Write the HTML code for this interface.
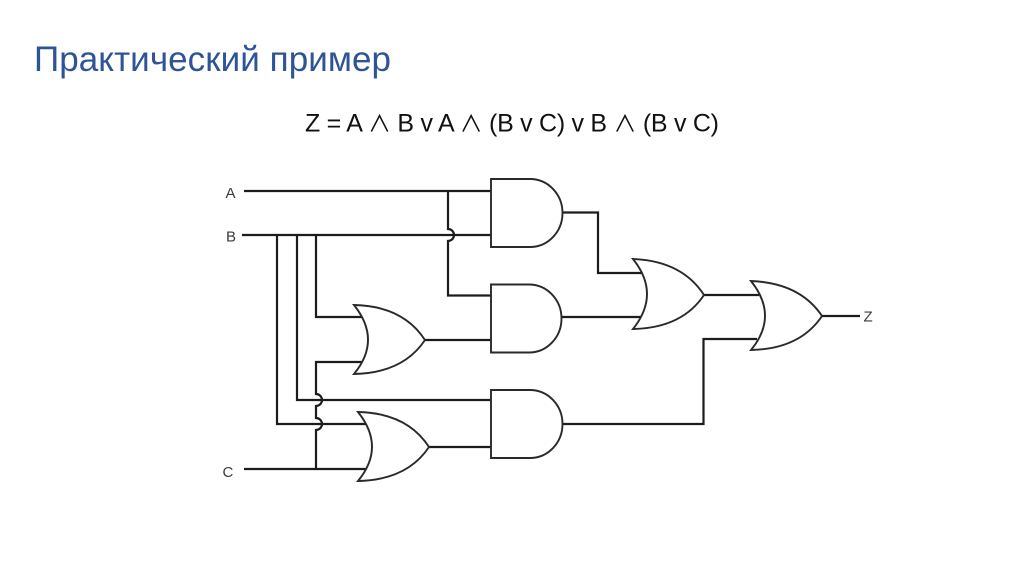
<!DOCTYPE html>
<html lang="ru">
<head>
<meta charset="utf-8">
<title>Практический пример</title>
<style>
html,body{margin:0;padding:0;background:#fff;width:1024px;height:574px;overflow:hidden}
svg{display:block}
text{font-family:"Liberation Sans",sans-serif}
.w{fill:none;stroke:#1c1c1c;stroke-width:2.2;stroke-linejoin:miter}
.g{fill:#fff;stroke:#2a2a2a;stroke-width:1.9;stroke-linejoin:miter}
.a{font-family:"Noto Sans CJK JP","Liberation Sans",sans-serif;font-size:23px}
</style>
</head>
<body>
<svg width="1024" height="574" viewBox="0 0 1024 574" xmlns="http://www.w3.org/2000/svg">
<rect width="1024" height="574" fill="#fff"/>
<text x="34" y="71" font-size="35" fill="#2f5496" textLength="357" lengthAdjust="spacing">Практический пример</text>
<text x="305" y="131.500" font-size="25" fill="#111" textLength="414" lengthAdjust="spacing">Z = A <tspan class="a">∧</tspan> B v A <tspan class="a">∧</tspan> (B v C) v B <tspan class="a">∧</tspan> (B v C)</text>

<g font-size="15" fill="#3a3a3a">
<text x="225.500" y="198">A</text>
<text x="226" y="241.500">B</text>
<text x="222.500" y="477">C</text>
<text x="863.500" y="321.500">Z</text>
</g>

<!-- wires -->
<path class="w" d="M244 191H491"/>
<path class="w" d="M242 235H491"/>
<path class="w" d="M448 191V229A6 6 0 0 1 448 241V295.500H491"/>
<path class="w" d="M277 235V424H366"/>
<path class="w" d="M297 235V400H491"/>
<path class="w" d="M316 235V317H362"/>
<path class="w" d="M362 362H316V394A6 6 0 0 1 316 406V418A6 6 0 0 1 316 430V469"/>
<path class="w" d="M244 469H366"/>
<path class="w" d="M425 340H491"/>
<path class="w" d="M429 447H491"/>
<path class="w" d="M562 212.500H598V273H642"/>
<path class="w" d="M561 317H642"/>
<path class="w" d="M562 424H703.500V339H757"/>
<path class="w" d="M704 295H759"/>
<path class="w" d="M822 316H860"/>

<!-- AND gates -->
<path class="g" d="M491 179H530A32.500 34 0 0 1 530 247H491Z"/>
<path class="g" d="M491 284.500H529A32.500 34 0 0 1 529 352.500H491Z"/>
<path class="g" d="M491 390H530A32.500 34 0 0 1 530 458H491Z"/>

<!-- OR gates -->
<path class="g" d="M354 305Q403 306 425 340Q403 373 354 374Q382 340 354 305Z"/>
<path class="g" d="M358 412Q407 413 429 447Q407 480 358 481Q386 447 358 412Z"/>
<path class="g" d="M633 259Q682 261 704 295Q682 328 633 329Q661 294 633 259Z"/>
<path class="g" d="M751 281Q800 283 822 316Q800 349 751 350Q779 316 751 281Z"/>
</svg>
</body>
</html>
